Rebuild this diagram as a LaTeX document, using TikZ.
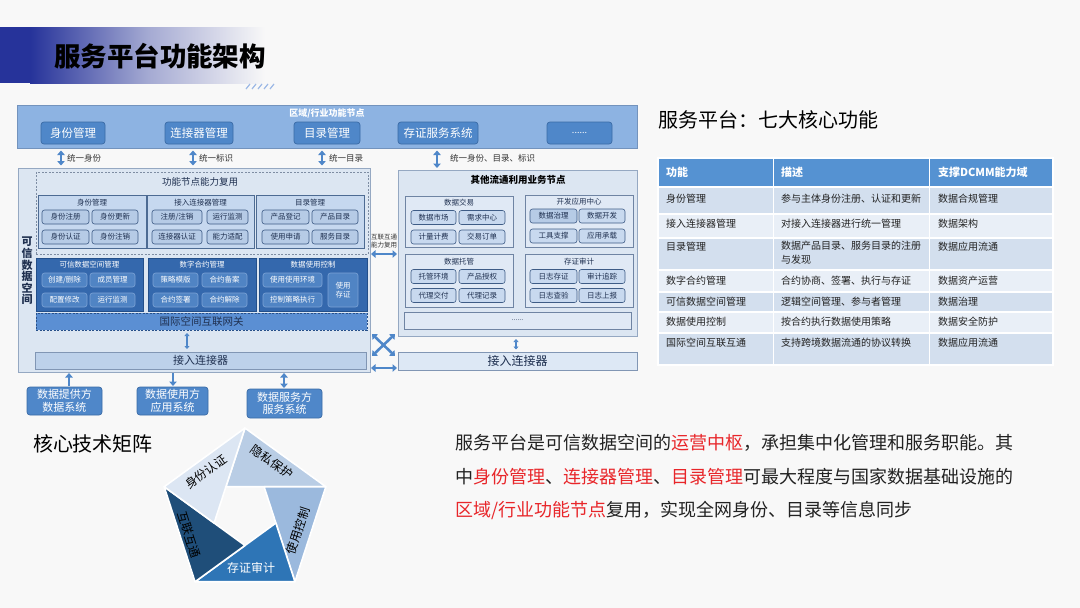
\documentclass[tikz,border=0pt]{standalone}
\usepackage{fontspec}
\setmainfont{Noto Sans CJK SC}
\usetikzlibrary{arrows.meta,calc}
\newcommand\myfs[1]{\fontsize{#1}{#1}\selectfont}
\definecolor{cbg}{HTML}{F8F8F8}
\definecolor{cbanner}{HTML}{26339A}
\definecolor{cdeco}{HTML}{9DB9E6}
\definecolor{cband}{HTML}{8DB3E2}
\definecolor{cbandB}{HTML}{7393BD}
\definecolor{ctop}{HTML}{4F87C9}
\definecolor{ctopB}{HTML}{3A6BA6}
\definecolor{clbox}{HTML}{DCE6F2}
\definecolor{clboxB}{HTML}{95A8C2}
\definecolor{cdash}{HTML}{7E8DA3}
\definecolor{cpanel}{HTML}{C6D8EF}
\definecolor{cpanelB}{HTML}{4D6B93}
\definecolor{cinner}{HTML}{B6CBE6}
\definecolor{cinnerB}{HTML}{3E5C86}
\definecolor{ctext}{HTML}{1F3050}
\definecolor{ctext2}{HTML}{333333}
\definecolor{ctext3}{HTML}{222222}
\definecolor{cdark}{HTML}{3468AD}
\definecolor{cdarkB}{HTML}{234F8A}
\definecolor{cdinner}{HTML}{5084C4}
\definecolor{cdinnerB}{HTML}{7CA3D6}
\definecolor{cgw}{HTML}{5B8FD3}
\definecolor{cgwB}{HTML}{27508A}
\definecolor{cconnL}{HTML}{BDD1EA}
\definecolor{cconnR}{HTML}{DDE8F5}
\definecolor{cconnB}{HTML}{8196B4}
\definecolor{crpanel}{HTML}{E0E9F5}
\definecolor{crpanelB}{HTML}{6F84A3}
\definecolor{crinner}{HTML}{C8D9EF}
\definecolor{carrow}{HTML}{4F87C9}
\definecolor{chead}{HTML}{5592D2}
\definecolor{crowd}{HTML}{D3DFEE}
\definecolor{crowl}{HTML}{E9EFF7}
\definecolor{cred}{HTML}{E8262A}
\definecolor{cp0}{HTML}{B9CDE5}
\definecolor{cp1}{HTML}{9BB9DD}
\definecolor{cp2}{HTML}{2E75B6}
\definecolor{cp3}{HTML}{1F4E79}
\definecolor{cp4}{HTML}{DCE6F3}
\begin{document}
\begin{tikzpicture}[x=1pt,y=-1pt,
 every node/.append style={inner sep=0pt, outer sep=0pt},
 bandbox/.style={draw=cbandB, fill=cband, line width=0.8pt},
 topbox/.style={draw=ctopB, fill=ctop, rounded corners=3pt, text=white, font=\myfs{11.5}, minimum height=22pt, line width=0.7pt},
 bigbox/.style={draw=clboxB, fill=clbox, line width=0.8pt},
 lpanel/.style={draw=cpanelB, fill=cpanel, line width=0.6pt},
 ibox/.style={draw=cinnerB, fill=cinner, rounded corners=2.5pt, font=\myfs{7.5}, text=ctext, minimum height=14pt, line width=0.6pt},
 dpanel/.style={draw=cdarkB, fill=cdark, line width=0.6pt},
 dibox/.style={draw=cdinnerB, fill=cdinner, rounded corners=2.5pt, font=\myfs{7.5}, text=white, minimum height=14pt, line width=0.6pt},
 ptitle/.style={font=\myfs{7.5}, text=ctext},
 dtitle/.style={font=\myfs{7.5}, text=white},
 rpanel/.style={draw=crpanelB, fill=crpanel, line width=0.6pt},
 ribox/.style={draw=cinnerB, fill=crinner, rounded corners=2.5pt, font=\myfs{7.5}, text=ctext, minimum height=14pt, line width=0.6pt},
 connbar/.style={draw=cconnB, line width=0.6pt, text=ctext},
 srcbox/.style={draw=ctopB, fill=ctop, rounded corners=3pt, text=white, font=\fontsize{11}{12.5}\selectfont, align=center, line width=0.7pt},
 barrow/.style={draw=carrow, line width=2.6pt, {Triangle[length=4.5pt,width=7.5pt]}-{Triangle[length=4.5pt,width=7.5pt]}},
 sarrow/.style={draw=carrow, line width=1.8pt, {Triangle[length=3pt,width=5pt]}-{Triangle[length=3pt,width=5pt]}},
 uarrow/.style={draw=carrow, line width=2.6pt, -{Triangle[length=4.5pt,width=7.5pt]}},
 alabel/.style={font=\myfs{8.5}, text=ctext2, anchor=west},
 ttext/.style={font=\myfs{10}, text=ctext3, anchor=west},
 pent/.style={draw=white, line width=1.6pt, line join=round},
 plabel/.style={font=\myfs{12}, text=black},
]
\useasboundingbox (0,0) rectangle (1080,608);
\fill[cbg] (0,0) rectangle (1080,608);

% ---- title banner
\fill[cbanner] (0,27) rectangle (30,83);
\shade[left color=cbanner, right color=cbg, middle color=cbanner!40!cbg] (30,27) rectangle (265,83);
\node[anchor=west, font=\myfs{26.5}\bfseries, text=black] (title) at (54,56) {服务平台功能架构};
\foreach \i in {0,...,4} \draw[cdeco, line width=1.2pt] (246+\i*6,89) -- (250+\i*6,84);

% ---- top band
\node[bandbox, minimum width=620, minimum height=43] (band) at (327,126.5) {};
\node[font=\myfs{9}\bfseries, text=white] (bandlbl) at (327,113) {区域/行业功能节点};
\node[topbox, minimum width=64] (t1) at (73,133) {身份管理};
\node[topbox, minimum width=68] (t2) at (199,133) {连接器管理};
\node[topbox, minimum width=66] (t3) at (327,133) {目录管理};
\node[topbox, minimum width=80] (t4) at (438,133) {存证服务系统};
\node[topbox, minimum width=65, font=\myfs{9}] (t5) at (579.5,133) {......};

% ---- big boxes
\node[bigbox, minimum width=352, minimum height=204] (lbox) at (194,270) {};
\node[bigbox, minimum width=239, minimum height=166] (rbox) at (517.5,253.5) {};

% top arrows
\coordinate (ax1) at (61,0);
\coordinate (ax2) at (193,0);
\coordinate (ax3) at (322,0);
\coordinate (ax4) at (437,0);
\draw[barrow] ([yshift=-2.5pt]band.south -| ax1) -- ([yshift=2.5pt]lbox.north -| ax1);
\draw[barrow] ([yshift=-2.5pt]band.south -| ax2) -- ([yshift=2.5pt]lbox.north -| ax2);
\draw[barrow] ([yshift=-2.5pt]band.south -| ax3) -- ([yshift=2.5pt]lbox.north -| ax3);
\draw[barrow] ([yshift=-2.5pt]band.south -| ax4) -- ([yshift=2.5pt]rbox.north -| ax4);
\node[alabel] (al1) at (67,158) {统一身份};
\node[alabel] (al2) at (199,158) {统一标识};
\node[alabel] (al3) at (329,158) {统一目录};
\node[alabel] (al4) at (450,158) {统一身份、目录、标识};

% ---- left box content
\node[font=\fontsize{11}{11.6}\selectfont\bfseries, align=center, text=ctext] (vlbl) at (27,271) {可\\信\\数\\据\\空\\间};
\node[draw=cdash, dash pattern=on 2pt off 1.5pt, line width=0.6pt, minimum width=332, minimum height=82] (dbx) at (202,213) {};
\node[font=\myfs{9.5}, text=ctext] (dbxl) at (200,182) {功能节点能力复用};

\node[lpanel, minimum width=108, minimum height=53] (p1) at (92,221.5) {};
\node[lpanel, minimum width=107, minimum height=53] (p2) at (200.5,221.5) {};
\node[lpanel, minimum width=108, minimum height=53] (p3) at (310,221.5) {};
\node[ptitle] (p1l) at (92,203) {身份管理};
\node[ptitle] (p2l) at (200.5,203) {接入连接器管理};
\node[ptitle] (p3l) at (310,203) {目录管理};
\node[ibox, minimum width=47] (p1a) at (65.5,217) {身份注册};
\node[ibox, minimum width=46] (p1b) at (115,217) {身份更新};
\node[ibox, minimum width=47] (p1c) at (65.5,237) {身份认证};
\node[ibox, minimum width=46] (p1d) at (115,237) {身份注销};
\node[ibox, minimum width=50] (p2a) at (177,217) {注册/注销};
\node[ibox, minimum width=41] (p2b) at (227.5,217) {运行监测};
\node[ibox, minimum width=50] (p2c) at (177,237) {连接器认证};
\node[ibox, minimum width=41] (p2d) at (227.5,237) {能力适配};
\node[ibox, minimum width=47] (p3a) at (285.5,217) {产品登记};
\node[ibox, minimum width=46] (p3b) at (335,217) {产品目录};
\node[ibox, minimum width=47] (p3c) at (285.5,237) {使用申请};
\node[ibox, minimum width=46] (p3d) at (335,237) {服务目录};

\node[dpanel, minimum width=107, minimum height=53] (q1) at (89.5,284.5) {};
\node[dpanel, minimum width=108, minimum height=53] (q2) at (202,284.5) {};
\node[dpanel, minimum width=108, minimum height=53] (q3) at (313,284.5) {};
\node[dtitle] (q1l) at (89.5,265) {可信数据空间管理};
\node[dtitle] (q2l) at (202,265) {数字合约管理};
\node[dtitle] (q3l) at (313,265) {数据使用控制};
\node[dibox, minimum width=45] (q1a) at (64.5,280) {创建/删除};
\node[dibox, minimum width=45] (q1b) at (112.5,280) {成员管理};
\node[dibox, minimum width=45] (q1c) at (64.5,300) {配置修改};
\node[dibox, minimum width=45] (q1d) at (112.5,300) {运行监测};
\node[dibox, minimum width=45] (q2a) at (175.5,280) {策略模版};
\node[dibox, minimum width=45] (q2b) at (224.5,280) {合约备案};
\node[dibox, minimum width=45] (q2c) at (175.5,300) {合约签署};
\node[dibox, minimum width=45] (q2d) at (224.5,300) {合约解除};
\node[dibox, minimum width=59] (q3a) at (292.5,280) {使用使用环境};
\node[dibox, minimum width=59] (q3b) at (292.5,300) {控制策略执行};
\node[dibox, minimum width=30, minimum height=34, align=center, font=\fontsize{7.5}{9.5}\selectfont] (q3c) at (343,290) {使用\\存证};

\node[draw=cgwB, fill=cgw, dash pattern=on 2pt off 1.5pt, line width=0.6pt, minimum width=331, minimum height=17, font=\myfs{10.5}, text=ctext] (gw) at (201.5,321.5) {国际空间互联网关};
\node[connbar, fill=cconnL, minimum width=331, minimum height=17, font=\myfs{11}] (lconn) at (200.5,360.5) {接入连接器};
\coordinate (ax5) at (187,0);
\draw[sarrow] ([yshift=-3pt]gw.south -| ax5) -- ([yshift=3pt]lconn.north -| ax5);

% ---- right box content
\node[font=\myfs{9.5}\bfseries, text=black] (rtitle) at (518,180) {其他流通利用业务节点};
\node[rpanel, minimum width=108, minimum height=51] (r1) at (459,221.5) {};
\node[rpanel, minimum width=108, minimum height=52] (r2) at (579,221) {};
\node[rpanel, minimum width=108, minimum height=53] (r3) at (459,280.5) {};
\node[rpanel, minimum width=108, minimum height=53] (r4) at (579,280.5) {};
\node[ptitle] (r1l) at (459,203) {数据交易};
\node[ptitle] (r2l) at (579,202) {开发应用中心};
\node[ptitle] (r3l) at (459,262) {数据托管};
\node[ptitle] (r4l) at (579,262) {存证审计};
\node[ribox, minimum width=45] (r1a) at (433.5,217.5) {数据市场};
\node[ribox, minimum width=46] (r1b) at (482,217.5) {需求中心};
\node[ribox, minimum width=45] (r1c) at (433.5,237) {计量计费};
\node[ribox, minimum width=46] (r1d) at (482,237) {交易订单};
\node[ribox, minimum width=47, fill=cinner] (r2a) at (553.5,216) {数据治理};
\node[ribox, minimum width=46] (r2b) at (602,216) {数据开发};
\node[ribox, minimum width=47] (r2c) at (553.5,236) {工具支撑};
\node[ribox, minimum width=46] (r2d) at (602,236) {应用承载};
\node[ribox, minimum width=45] (r3a) at (433.5,276.5) {托管环境};
\node[ribox, minimum width=46] (r3b) at (482,276.5) {产品授权};
\node[ribox, minimum width=45] (r3c) at (433.5,295.5) {代理交付};
\node[ribox, minimum width=46] (r3d) at (482,295.5) {代理记录};
\node[ribox, minimum width=47] (r4a) at (553.5,276.5) {日志存证};
\node[ribox, minimum width=46] (r4b) at (602,276.5) {审计追踪};
\node[ribox, minimum width=47] (r4c) at (553.5,295.5) {日志查验};
\node[ribox, minimum width=46] (r4d) at (602,295.5) {日志上报};
\node[rpanel, minimum width=227, minimum height=17, font=\myfs{7}, text=ctext] (rdots) at (517.5,320.5) {......};
\node[connbar, fill=cconnR, minimum width=239, minimum height=18, font=\myfs{12}] (rconn) at (517.5,361) {接入连接器};
\coordinate (ax6) at (516,0);
\draw[sarrow] ([yshift=-2.5pt]rbox.south -| ax6) -- ([yshift=2.5pt]rconn.north -| ax6);

% ---- middle arrows
\node[font=\fontsize{6.5}{7.5}\selectfont, align=center, text=ctext2] (mlbl) at (384,241) {互联互通\\能力复用};
\coordinate (my1) at (0,254);
\coordinate (my2) at (0,368);
\draw[barrow] ([xshift=1pt]lbox.east |- my1) -- ([xshift=-1pt]rbox.west |- my1);
\draw[barrow] ([xshift=1pt]lbox.east |- my2) -- ([xshift=-1pt]rconn.west |- my2);
\coordinate (cx1) at (372,334);
\coordinate (cx2) at (395,356);
\coordinate (cx3) at (372,356);
\coordinate (cx4) at (395,334);
\draw[barrow] (cx1) -- (cx2);
\draw[barrow] (cx3) -- (cx4);

% ---- source boxes
\node[srcbox, minimum width=75, minimum height=28] (b1) at (64.5,401) {数据提供方\\数据系统};
\node[srcbox, minimum width=71, minimum height=28] (b2) at (172.5,401) {数据使用方\\应用系统};
\node[srcbox, minimum width=75, minimum height=29] (b3) at (284.5,403.5) {数据服务方\\服务系统};
\coordinate (bx1) at (69,0);
\coordinate (bx2) at (173,0);
\coordinate (bx3) at (284,0);
\draw[uarrow] ([yshift=1pt]b1.north -| bx1) -- ([yshift=-1pt]lbox.south -| bx1);
\draw[uarrow] ([yshift=-1pt]lbox.south -| bx2) -- ([yshift=1pt]b2.north -| bx2);
\draw[barrow] ([yshift=-1pt]lbox.south -| bx3) -- ([yshift=1pt]b3.north -| bx3);

% ---- table
\node[anchor=west, font=\myfs{20}, text=black] (ttl) at (658,120) {服务平台：七大核心功能};
\foreach \ya/\yb/\col in {158/187/chead, 187/214/crowd, 214/238/crowl, 238/270/crowd, 270/292/crowl, 292/312/crowd, 312/333/crowl, 333/365/crowd}{
  \path[fill=\col, draw=white, line width=1.2pt] (658,\ya) rectangle (773.5,\yb) (773.5,\ya) rectangle (929.5,\yb) (929.5,\ya) rectangle (1053,\yb);
}
\node[ttext, font=\myfs{11}\bfseries, text=white] (h1) at (666,172) {功能};
\node[ttext, font=\myfs{11}\bfseries, text=white] (h2) at (781,172) {描述};
\node[ttext, font=\myfs{11}\bfseries, text=white] (h3) at (938,172) {支撑DCMM能力域};
\node[ttext] (a1) at (666,199) {身份管理};
\node[ttext] (b1t) at (781,199) {参与主体身份注册、认证和更新};
\node[ttext] (c1) at (938,199) {数据合规管理};
\node[ttext] (a2) at (666,224) {接入连接器管理};
\node[ttext] (b2t) at (781,224) {对接入连接器进行统一管理};
\node[ttext] (c2) at (938,224) {数据架构};
\node[ttext] (a3) at (666,247) {目录管理};
\node[ttext, anchor=north west, align=left, font=\fontsize{10}{13.5}\selectfont] (b3t) at (781,241.5) {数据产品目录、服务目录的注册\\与发现};
\node[ttext] (c3) at (938,247) {数据应用流通};
\node[ttext] (a4) at (666,280.5) {数字合约管理};
\node[ttext] (b4t) at (781,280.5) {合约协商、签署、执行与存证};
\node[ttext] (c4) at (938,280.5) {数据资产运营};
\node[ttext] (a5) at (666,301.5) {可信数据空间管理};
\node[ttext] (b5t) at (781,301.5) {逻辑空间管理、参与者管理};
\node[ttext] (c5) at (938,301.5) {数据治理};
\node[ttext] (a6) at (666,322) {数据使用控制};
\node[ttext] (b6t) at (781,322) {按合约执行数据使用策略};
\node[ttext] (c6) at (938,322) {数据安全防护};
\node[ttext] (a7) at (666,342.5) {国际空间互联互通};
\node[ttext] (b7t) at (781,342.5) {支持跨境数据流通的协议转换};
\node[ttext] (c7) at (938,342.5) {数据应用流通};

% ---- core tech matrix
\node[anchor=west, font=\myfs{20}, text=black] (ctl) at (33,444) {核心技术矩阵};
\coordinate (V0) at (245,428);
\coordinate (V1) at (325.84,486.73);
\coordinate (V2) at (294.96,581.77);
\coordinate (V3) at (195.04,581.77);
\coordinate (V4) at (164.16,486.73);
\coordinate (Y0) at ($(V1)!0.618!(V4)$);
\coordinate (Y1) at ($(V2)!0.618!(V0)$);
\coordinate (Y2) at ($(V3)!0.618!(V1)$);
\coordinate (Y3) at ($(V4)!0.618!(V2)$);
\coordinate (Y4) at ($(V0)!0.618!(V3)$);
\path[pent, fill=cp0] (V0) -- (V1) -- (Y0) -- cycle;
\path[pent, fill=cp1] (V1) -- (V2) -- (Y1) -- cycle;
\path[pent, fill=cp2] (V2) -- (V3) -- (Y2) -- cycle;
\path[pent, fill=cp3] (V3) -- (V4) -- (Y3) -- cycle;
\path[pent, fill=cp4] (V4) -- (V0) -- (Y4) -- cycle;
\node[plabel, rotate=-36] (k0) at (272,462) {隐私保护};
\node[plabel, rotate=72] (k1) at (298,531) {使用控制};
\node[plabel, text=white] (k2) at (251,568) {存证审计};
\node[plabel, rotate=-72] (k3) at (189,535) {互联互通};
\node[plabel, rotate=36] (k4) at (206,472) {身份认证};

% ---- paragraph
\node[anchor=west, font=\myfs{18}, text=ctext3] (para1) at (455,443) {服务平台是可信数据空间的\textcolor{cred}{运营中枢}，承担集中化管理和服务职能。其};
\node[anchor=west, font=\myfs{18}, text=ctext3] (para2) at (455,477) {中\textcolor{cred}{身份管理}、\textcolor{cred}{连接器管理}、\textcolor{cred}{目录管理}可最大程度与国家数据基础设施的};
\node[anchor=west, font=\myfs{18}, text=ctext3] (para3) at (455,510) {\textcolor{cred}{区域/行业功能节点}复用，实现全网身份、目录等信息同步};
\end{tikzpicture}
\end{document}
